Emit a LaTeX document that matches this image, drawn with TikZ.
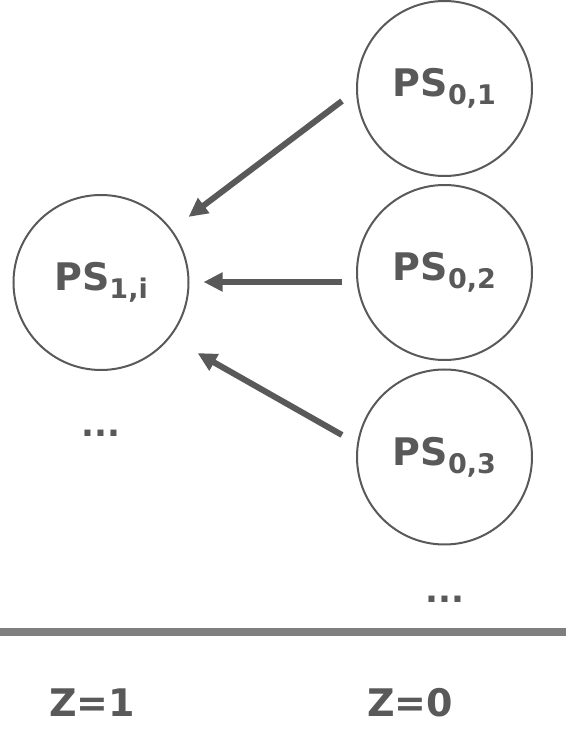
\documentclass[tikz,border=0pt]{standalone}
\usepackage{fontspec}
\setmainfont{DejaVu Sans}
\usetikzlibrary{arrows.meta}
\definecolor{ink}{HTML}{595959}
\definecolor{regle}{HTML}{7F7F7F}
\newcommand{\PSsub}[1]{PS\raisebox{-8pt}{\fontsize{27}{30}\selectfont #1}}

\begin{document}
\begin{tikzpicture}[x=1pt, y=1pt,
    every node/.style={
        text=ink,
        font=\bfseries\fontsize{38}{44}\selectfont},
    etat/.style={
        draw=ink,
        line width=2pt,
        circle,
        inner sep=0pt,
        minimum size=175pt},
    fleche/.style={
        draw=ink,
        line width=6pt,
        -{Triangle[length=19pt, width=18pt]}},
    points/.style={anchor=base, font=\bfseries\fontsize{34}{38}\selectfont}]

    \useasboundingbox (0,0) rectangle (566,753);

    \node[etat] (p1i) at (101,470.5) {\PSsub{1,i}};
    \node[etat] (p01) at (444.5,664.5) {\PSsub{0,1}};
    \node[etat] (p02) at (444.5,480.5) {\PSsub{0,2}};
    \node[etat] (p03) at (444.5,296) {\PSsub{0,3}};

    \draw[fleche] ([shift={(-14,-12.5)}]p01.west) -- ([shift={(25,3)}]p1i.north east);
    \draw[fleche] ([shift={(-14,-9.5)}]p02.west) -- ([shift={(14,0.5)}]p1i.east);
    \draw[fleche] ([shift={(-14,22)}]p03.west) -- ([shift={(34,-8)}]p1i.south east);

    \node[points] (d1) at (101,316) {...};
    \node[points] (d0) at (445,150) {...};

    \coordinate (g) at (0,121);
    \coordinate (d) at (566,121);
    \draw[regle, line width=8pt] (g) -- (d);

    \node[anchor=base] (z1) at (92,36) {Z=1};
    \node[anchor=base] (z0) at (410,36) {Z=0};
\end{tikzpicture}
\end{document}
